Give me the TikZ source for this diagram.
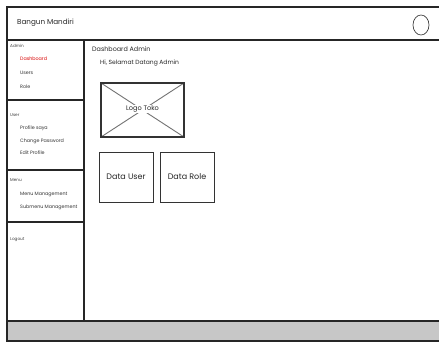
\documentclass[tikz,border=0pt]{standalone}
\usepackage{fontspec}
\setmainfont{Poppins}
\usetikzlibrary{shapes.geometric}
\begin{document}
\begin{tikzpicture}[x=1pt,y=-1pt,
  frame/.style={draw=black!85,line width=1.3pt},
  thin frame/.style={draw=black!80,line width=1pt},
  side/.style={anchor=west,inner sep=0pt,font=\fontsize{4.8}{5.5}\selectfont,text=black!80},
  sidehead/.style={anchor=west,inner sep=0pt,font=\fontsize{4.2}{5}\selectfont,text=black!75},
  body/.style={anchor=west,inner sep=0pt,font=\fontsize{6}{7}\selectfont,text=black!85},
  card/.style={thin frame,fill=white,minimum width=54pt,minimum height=50pt,
    font=\fontsize{8}{9.5}\selectfont,text=black!85}]
\useasboundingbox (0,0) rectangle (439,343);
\fill[white] (0,0) rectangle (439,343);
\begin{scope}
\clip (0,0) rectangle (439,343);
% window frame and header bar
\draw[frame] (7,7) rectangle (450,341);
\draw[frame] (7,40) -- (450,40);
\node[anchor=west,inner sep=0pt,font=\fontsize{7.2}{8}\selectfont,text=black!85] (title) at (17,23) {Bangun Mandiri};
\node[draw=black!75,line width=0.7pt,ellipse,minimum width=16pt,minimum height=20pt,inner sep=0pt] (close) at (421,25) {};
% status bar
\draw[frame,fill=black!22] (7,321) rectangle (450,341);
% sidebar sections
\draw[frame] (84,40) -- (84,321);
\draw[frame] (7,100) -- (84,100);
\draw[frame] (7,170) -- (84,170);
\draw[frame] (7,222) -- (84,222);
\node[sidehead] (admin) at (10,46) {Admin};
\node[side,text=red!85!black] (dash) at (20,59) {Dashboard};
\node[side] (users) at (20,73) {Users};
\node[side] (role) at (20,87) {Role};
\node[sidehead] (user) at (10,115) {User};
\node[side] (profil) at (20,128) {Profile saya};
\node[side] (pass) at (20,141) {Change Password};
\node[side] (edit) at (20,153) {Edit Profile};
\node[sidehead] (menu) at (10,180) {Menu};
\node[side] (mm) at (20,194) {Menu Management};
\node[side] (smm) at (20,207) {Submenu Management};
\node[sidehead] (logout) at (10,240) {Logout};
% main content
\node[body,font=\fontsize{6.4}{7.5}\selectfont] (head) at (92,49) {Dashboard Admin};
\node[body] (hi) at (100,63) {Hi, Selamat Datang Admin};
\draw[black!55,line width=0.9pt] (101,83) -- (184,137) (101,137) -- (184,83);
\draw[thin frame,line width=1.3pt] (101,83) rectangle (184,137);
\node[fill=white,inner sep=1pt,font=\fontsize{6.6}{7.5}\selectfont,text=black!85] (logo) at (142.5,109) {Logo Toko};
\node[card] (datauser) at (126,177) {Data User};
\node[card] (datarole) at (187,177) {Data Role};
\end{scope}
\end{tikzpicture}
\end{document}
